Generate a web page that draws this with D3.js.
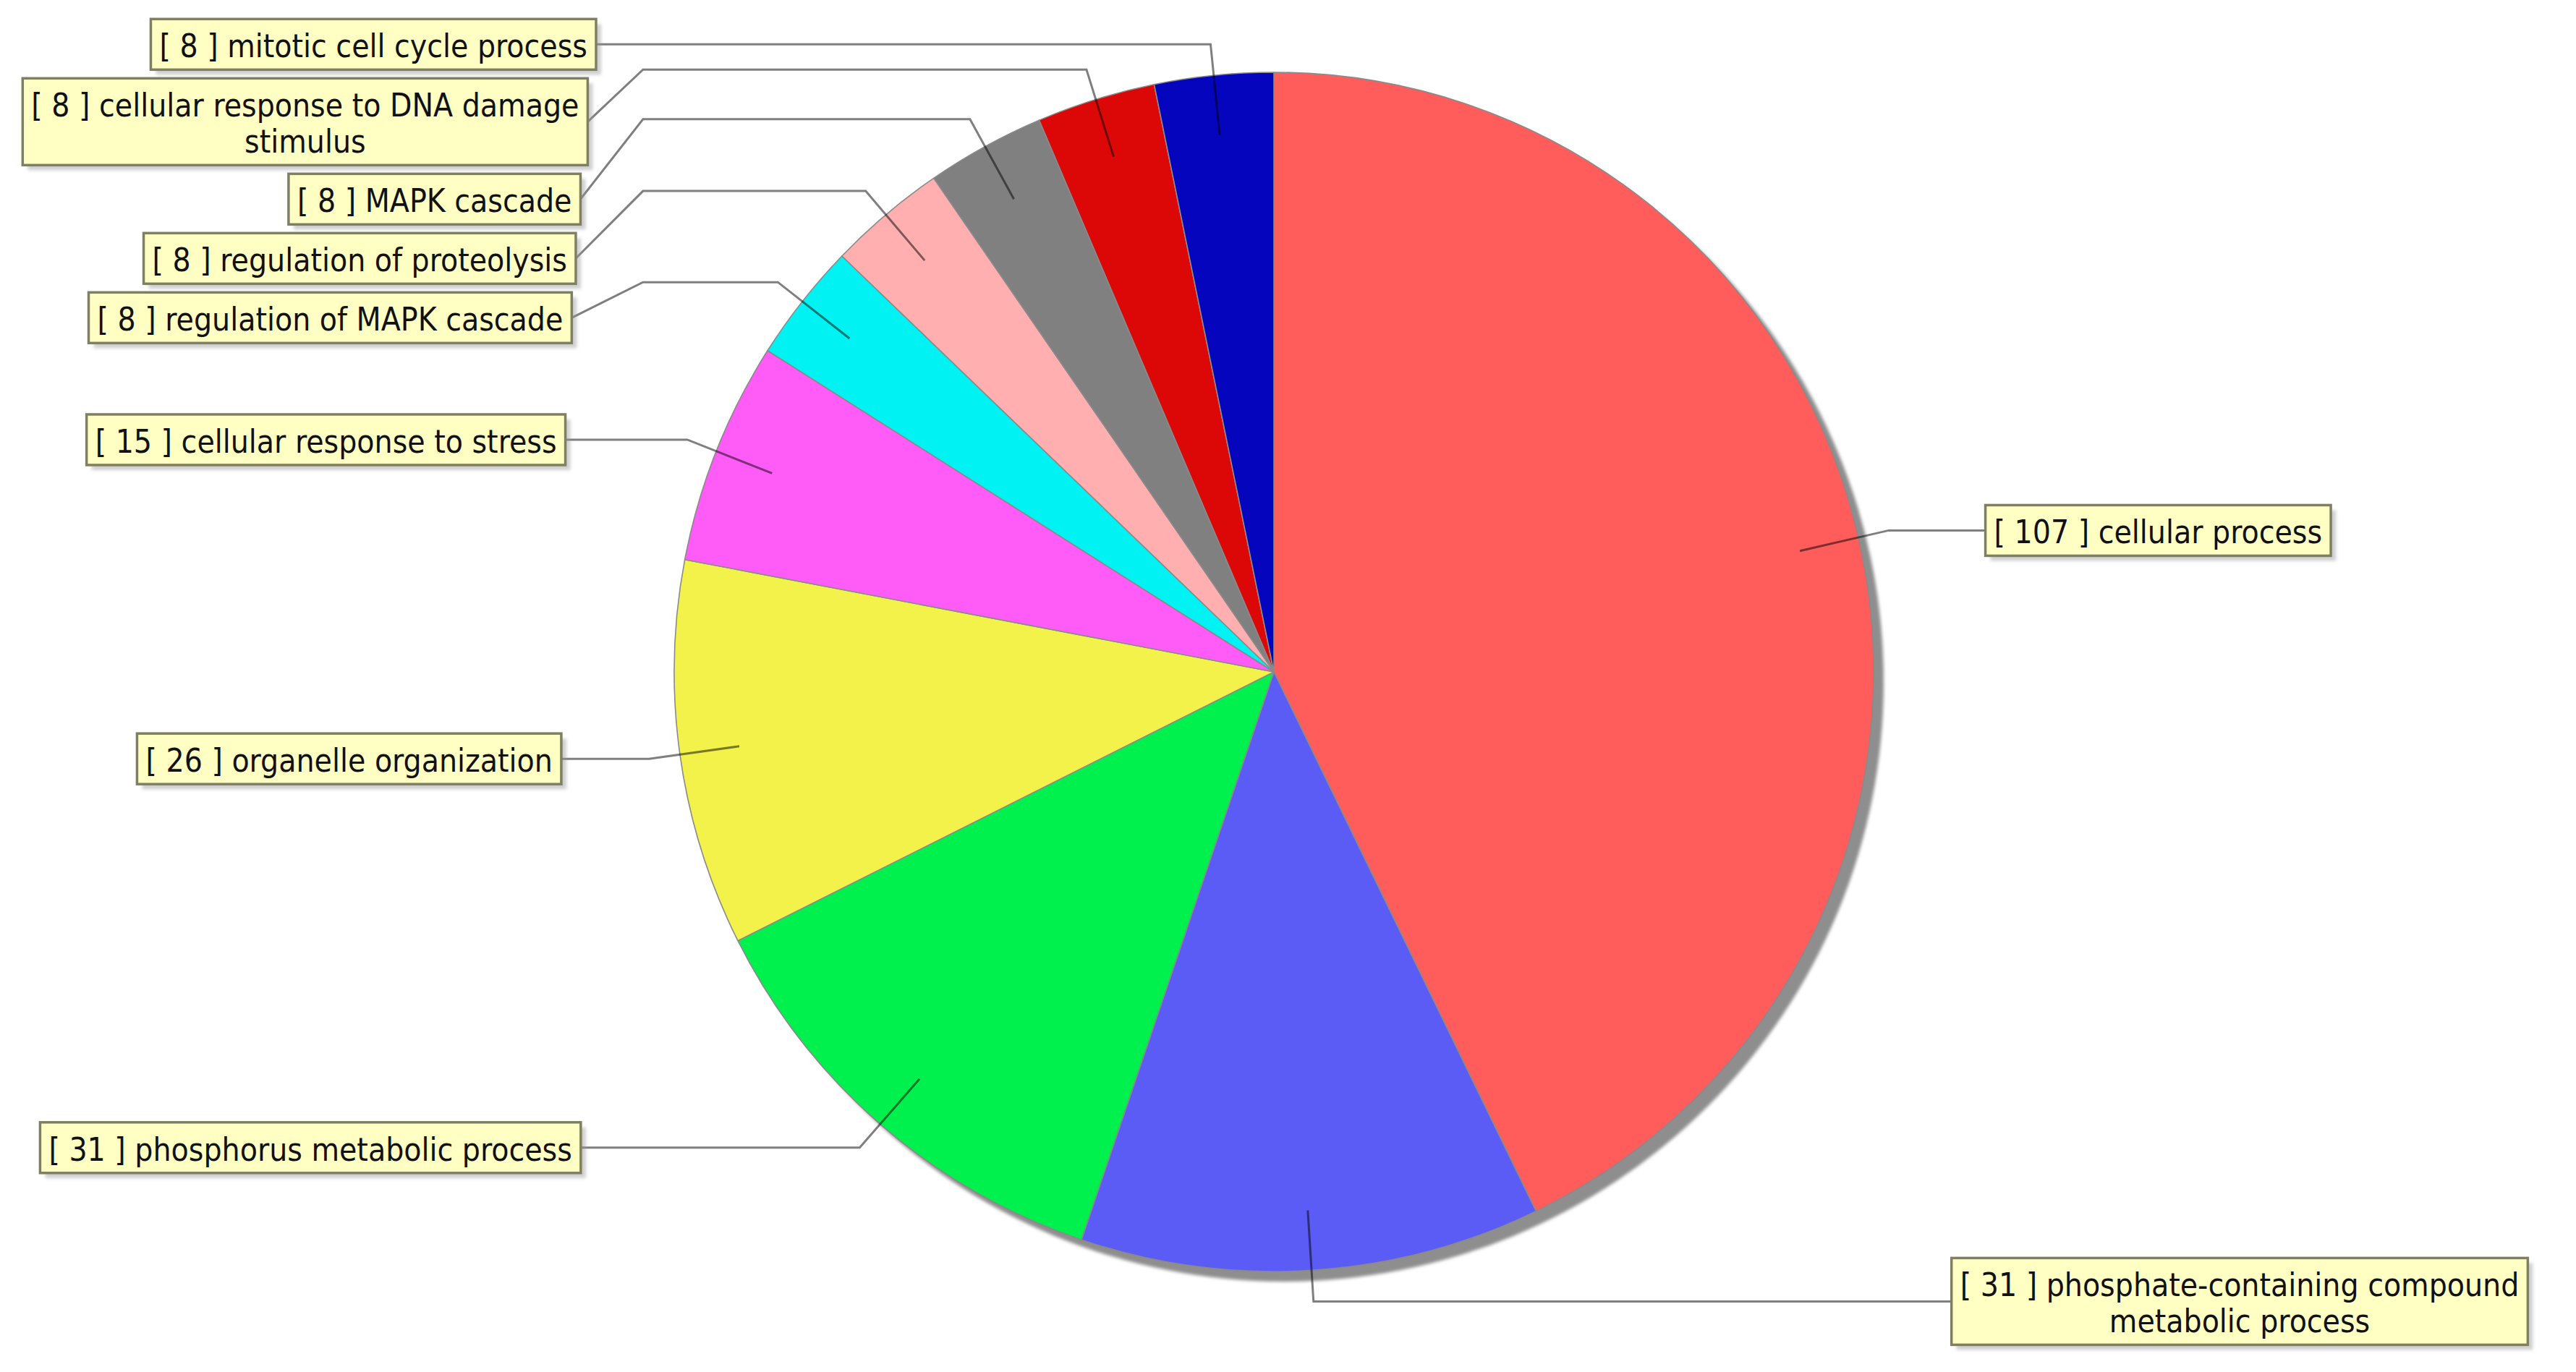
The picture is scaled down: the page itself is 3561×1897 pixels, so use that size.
<!DOCTYPE html>
<html>
<head>
<meta charset="utf-8">
<script src="https://d3js.org/d3.v7.min.js"></script>
<style>
  html, body { margin: 0; padding: 0; background: #fff; }
  svg { display: block; }
  .label-text {
    font-family: "DejaVu Sans Condensed", "Liberation Sans", Arial, sans-serif;
    font-size: 44px;
    fill: #111;
  }
</style>
</head>
<body>
<svg id="chart" width="3561" height="1897"></svg>
<script>
// GO terms, clockwise from 12 o'clock
const categories = [
    "cellular process",
    "phosphate-containing compound metabolic process",
    "phosphorus metabolic process",
    "organelle organization",
    "cellular response to stress",
    "regulation of MAPK cascade",
    "regulation of proteolysis",
    "MAPK cascade",
    "cellular response to DNA damage stimulus",
    "mitotic cell cycle process"
];
const counts = [107, 31, 31, 26, 15, 8, 8, 8, 8, 8];
const palette = ["#ff5c5c", "#5b5bf5", "#00f04e", "#f3f24a", "#ff5cf7",
                 "#00f2f2", "#ffafaf", "#808080", "#dc0808", "#0505be"];

const cx = 1761, cy = 929, radius = 829;
const linkRadius = radius * 1.052;   // elbow of the label links
const innerLink = radius * 0.9;      // where links start inside a slice
const shadowOffset = 14;
const lineH = 50, padX = 12, padY = 10, boxGap = 12, maxTextW = 850;
// label boxes hug a wide ellipse around the pie
const labelRx = 986, labelRy = 2788;

const svg = d3.select("#chart");
const defs = svg.append("defs");
defs.append("filter").attr("id", "soft")
    .append("feGaussianBlur").attr("stdDeviation", 2);

const slices = categories.map((c, i) => ({name: c, count: counts[i]}));
const color = d3.scaleOrdinal(categories, palette);
const pie = d3.pie().sort(null).value(d => d.count);
const arcs = pie(slices);
const arc = d3.arc().innerRadius(0).outerRadius(radius);

const plot = svg.append("g").attr("transform", `translate(${cx},${cy})`);

// drop shadow of the pie
plot.append("circle")
    .attr("cx", shadowOffset)
    .attr("cy", shadowOffset)
    .attr("r", radius)
    .attr("fill", "#8e8e8e")
    .attr("filter", "url(#soft)");

plot.append("g").attr("class", "slices")
    .selectAll("path")
    .data(arcs)
    .join("path")
    .attr("d", arc)
    .attr("fill", d => color(d.data.name))
    .attr("stroke", "#8a8a8a")
    .attr("stroke-width", 1.6)
    .attr("stroke-linejoin", "round");

// ---- labels
const polar = (a, r) => [r * Math.sin(a), -r * Math.cos(a)];

const measure = plot.append("text").attr("class", "label-text").attr("visibility", "hidden");
function textWidth(s) {
    measure.text(s);
    return measure.node().getComputedTextLength();
}
function wrap(s) {
    const words = s.split(" ");
    const lines = [];
    let cur = "";
    words.forEach(w => {
        const t = cur ? cur + " " + w : w;
        if (cur && textWidth(t) > maxTextW) {
            lines.push(cur);
            cur = w;
        } else {
            cur = t;
        }
    });
    lines.push(cur);
    return lines;
}

const labels = arcs.map(d => {
    const mid = (d.startAngle + d.endAngle) / 2;
    const lines = wrap(`[ ${d.data.count} ] ${d.data.name}`);
    const w = d3.max(lines, textWidth) + 2 * padX;
    const h = lines.length * lineH + 2 * padY;
    return {
        arc: d, mid, lines, w, h,
        left: mid > Math.PI,
        inner: polar(mid, innerLink),
        elbow: polar(mid, linkRadius)
    };
});
measure.remove();

function spread(group) {
    group.sort((a, b) => a.elbow[1] - b.elbow[1]);
    let prevBottom = -Infinity;
    group.forEach(l => {
        const top = Math.max(l.elbow[1] - l.h / 2, prevBottom + boxGap);
        l.y = top + l.h / 2;
        prevBottom = top + l.h;
    });
}
spread(labels.filter(l => l.left));
spread(labels.filter(l => !l.left));

labels.forEach(l => {
    const edge = labelRx * Math.sqrt(1 - Math.pow(l.y / labelRy, 2));
    const s = l.left ? -1 : 1;
    l.edgeX = s * edge;
    l.anchorX = s * linkRadius;
    l.boxX = l.left ? l.edgeX - l.w : l.edgeX;
    l.boxY = l.y - l.h / 2;
});

plot.append("g").attr("class", "links")
    .selectAll("path")
    .data(labels)
    .join("path")
    .attr("d", l => d3.line()([l.inner, l.elbow, [l.anchorX, l.elbow[1]], [l.edgeX, l.y]]))
    .attr("fill", "none")
    .attr("stroke", "#000")
    .attr("stroke-opacity", 0.5)
    .attr("stroke-width", 3);

const boxes = plot.append("g").attr("class", "labels")
    .selectAll("g")
    .data(labels)
    .join("g")
    .attr("transform", l => `translate(${l.boxX},${l.boxY})`);

boxes.append("rect")
    .attr("x", 7).attr("y", 7)
    .attr("width", l => l.w).attr("height", l => l.h)
    .attr("fill", "rgba(151,151,151,0.45)")
    .attr("filter", "url(#soft)");

boxes.append("rect")
    .attr("width", l => l.w).attr("height", l => l.h)
    .attr("fill", "#ffffc4")
    .attr("stroke", "#7f7f62")
    .attr("stroke-width", 3.5);

boxes.append("text")
    .attr("class", "label-text")
    .attr("text-anchor", "middle")
    .selectAll("tspan")
    .data(l => l.lines.map((t, i) => ({t, i, l})))
    .join("tspan")
    .attr("x", d => d.l.w / 2)
    .attr("y", d => padY + d.i * lineH + lineH / 2 + 18)
    .text(d => d.t);
</script>
</body>
</html>
